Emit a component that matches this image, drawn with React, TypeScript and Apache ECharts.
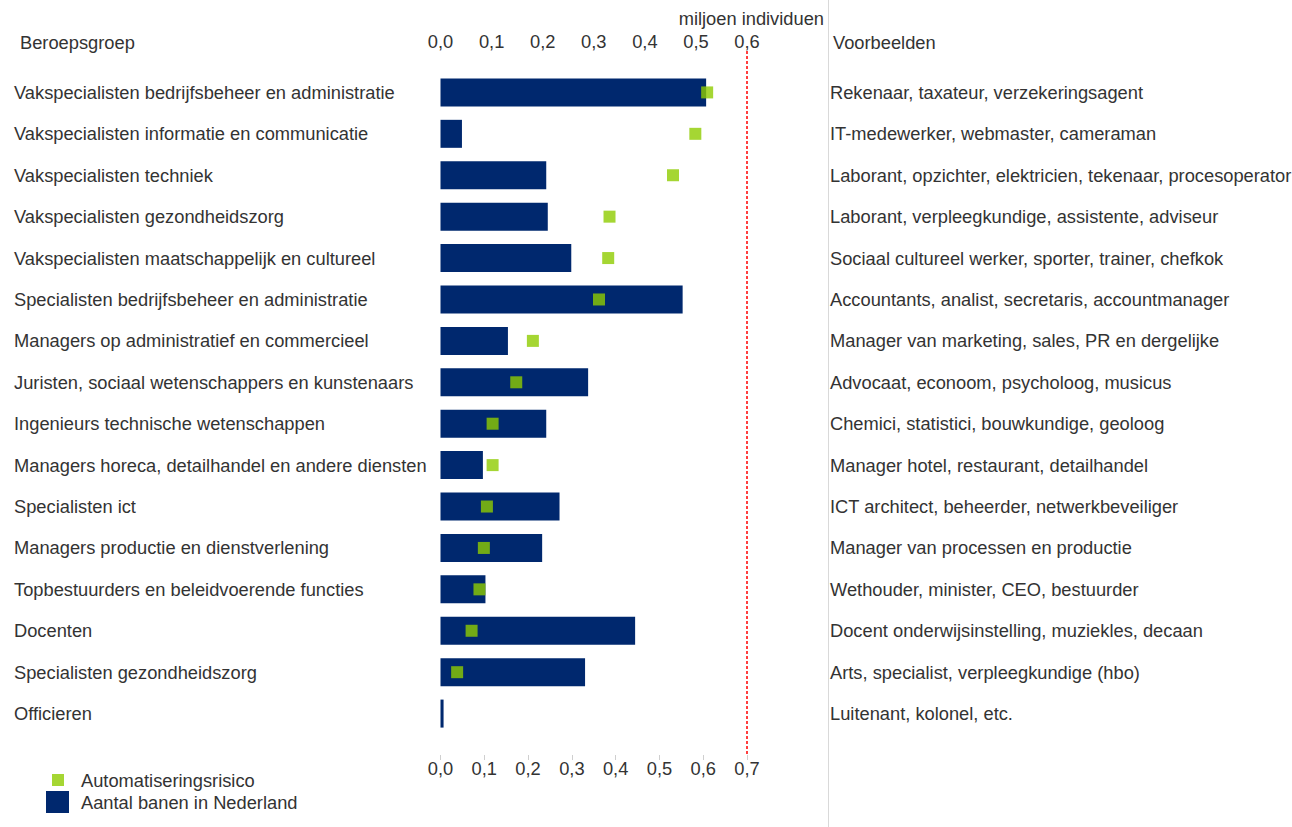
import React, { useEffect, useRef } from 'react';
import * as echarts from 'echarts';

const categories = [
  'Vakspecialisten bedrijfsbeheer en administratie',
  'Vakspecialisten informatie en communicatie',
  'Vakspecialisten techniek',
  'Vakspecialisten gezondheidszorg',
  'Vakspecialisten maatschappelijk en cultureel',
  'Specialisten bedrijfsbeheer en administratie',
  'Managers op administratief en commercieel',
  'Juristen, sociaal wetenschappers en kunstenaars',
  'Ingenieurs technische wetenschappen',
  'Managers horeca, detailhandel en andere diensten',
  'Specialisten ict',
  'Managers productie en dienstverlening',
  'Topbestuurders en beleidvoerende functies',
  'Docenten',
  'Specialisten gezondheidszorg',
  'Officieren',
];

const examples = [
  'Rekenaar, taxateur, verzekeringsagent',
  'IT-medewerker, webmaster, cameraman',
  'Laborant, opzichter, elektricien, tekenaar, procesoperator',
  'Laborant, verpleegkundige, assistente, adviseur',
  'Sociaal cultureel werker, sporter, trainer, chefkok',
  'Accountants, analist, secretaris, accountmanager',
  'Manager van marketing, sales, PR en dergelijke',
  'Advocaat, econoom, psycholoog, musicus',
  'Chemici, statistici, bouwkundige, geoloog',
  'Manager hotel, restaurant, detailhandel',
  'ICT architect, beheerder, netwerkbeveiliger',
  'Manager van processen en productie',
  'Wethouder, minister, CEO, bestuurder',
  'Docent onderwijsinstelling, muziekles, decaan',
  'Arts, specialist, verpleegkundige (hbo)',
  'Luitenant, kolonel, etc.',
];

// Aantal banen in Nederland (miljoen individuen)
const jobs = [0.52, 0.042, 0.207, 0.21, 0.256, 0.474, 0.132, 0.289, 0.207, 0.083, 0.233, 0.199, 0.088, 0.381, 0.283, 0.006];
// Automatiseringsrisico
const risk: (number | null)[] = [0.609, 0.582, 0.531, 0.386, 0.383, 0.362, 0.211, 0.173, 0.119, 0.119, 0.106, 0.099, 0.089, 0.071, 0.038, null];

const topTicks = { min: 0, max: 0.6, interval: 0.1 };
const bottomTicks = { min: 0, max: 0.7, interval: 0.1 };

const FONT = '"Liberation Sans", Arial, sans-serif';
const FS = 18.3;
const TEXT = '#333333';
const NAVY = '#00286e';
const GREEN = '#8fcc00';

export default function App() {
  const ref = useRef<HTMLDivElement>(null);
  useEffect(() => {
    const chart = echarts.init(ref.current as HTMLDivElement, null, { renderer: 'svg' });
    const pad = (arr: string[]) => ['', ...arr, ''];
    const fmt = (v: number) => v.toFixed(1).replace('.', ',');
    const labelBase = { fontFamily: FONT, fontSize: FS, color: TEXT };
    chart.setOption({
      animation: false,
      textStyle: { fontFamily: FONT, fontSize: FS, color: TEXT },
      grid: { left: 440.5, right: 545, top: 51, bottom: 72, containLabel: false, outerBoundsMode: 'none' },
      xAxis: [
        {
          type: 'value', position: 'top', ...topTicks,
          axisLine: { show: false }, axisTick: { show: false }, splitLine: { show: false },
          axisLabel: { ...labelBase, formatter: fmt, margin: 1 },
        },
        {
          type: 'value', position: 'bottom', ...bottomTicks,
          axisLine: { show: false },
          axisTick: { show: true, length: 5, lineStyle: { color: '#cfcfcf' } },
          splitLine: { show: false },
          axisLabel: { ...labelBase, formatter: fmt, margin: 4 },
        },
      ],
      yAxis: [
        {
          type: 'category', inverse: true, boundaryGap: false, position: 'left',
          data: pad(categories),
          axisLine: { show: false }, axisTick: { show: false },
          axisLabel: { ...labelBase, align: 'left', margin: 426.5, interval: 0, padding: [3, 0, 0, 0] },
        },
        {
          type: 'category', inverse: true, boundaryGap: false, position: 'right',
          data: pad(examples),
          axisLine: { show: false }, axisTick: { show: false },
          axisLabel: { ...labelBase, align: 'left', margin: 83, interval: 0, padding: [3, 0, 0, 0] },
        },
      ],
      legend: [
        {
          data: [{ name: 'Automatiseringsrisico', icon: 'rect' }], left: 52, top: 771, padding: 0,
          itemWidth: 12, itemHeight: 12, selectedMode: false,
          textStyle: { ...labelBase, padding: [0, 0, 0, 12] },
        },
        {
          data: [{ name: 'Aantal banen in Nederland', icon: 'rect' }], left: 46, top: 791, padding: 0,
          itemWidth: 23, itemHeight: 22, selectedMode: false,
          textStyle: { ...labelBase, padding: [0, 0, 0, 7] },
        },
      ],
      graphic: [
        { type: 'line', shape: { x1: 828.5, y1: 0, x2: 828.5, y2: 827 }, style: { stroke: '#d9d9d9', lineWidth: 1 } },
        { type: 'text', x: 20, y: 42, style: { text: 'Beroepsgroep', font: `${FS}px ${FONT}`, fill: TEXT, verticalAlign: 'middle' } },
        { type: 'text', x: 833, y: 42, style: { text: 'Voorbeelden', font: `${FS}px ${FONT}`, fill: TEXT, verticalAlign: 'middle' } },
        { type: 'text', x: 824, y: 18, style: { text: 'miljoen individuen', font: `${FS}px ${FONT}`, fill: TEXT, align: 'right', verticalAlign: 'middle' } },
      ],
      series: [
        {
          name: 'Aantal banen in Nederland',
          type: 'bar',
          xAxisIndex: 0, yAxisIndex: 0,
          barWidth: 28,
          itemStyle: { color: NAVY },
          data: ['-', ...jobs, '-'],
          markLine: {
            silent: true,
            symbol: ['none', 'none'],
            label: { show: false },
            lineStyle: { color: '#ff0000', type: [3, 2], width: 1.5 },
            data: [{ xAxis: topTicks.max }],
          },
          z: 2,
        },
        {
          name: 'Automatiseringsrisico',
          type: 'scatter',
          xAxisIndex: 1, yAxisIndex: 0,
          symbol: 'rect',
          symbolSize: 12,
          itemStyle: { color: GREEN },
          data: risk.map((v, i) => (v == null ? null : [v, i + 1])).filter((d) => d !== null),
          z: 3,
        },
      ],
    });
    return () => chart.dispose();
  }, []);
  return <div ref={ref} style={{ position: 'fixed', left: 0, top: 0, width: 1292, height: 827, background: '#fff' }} />;
}
